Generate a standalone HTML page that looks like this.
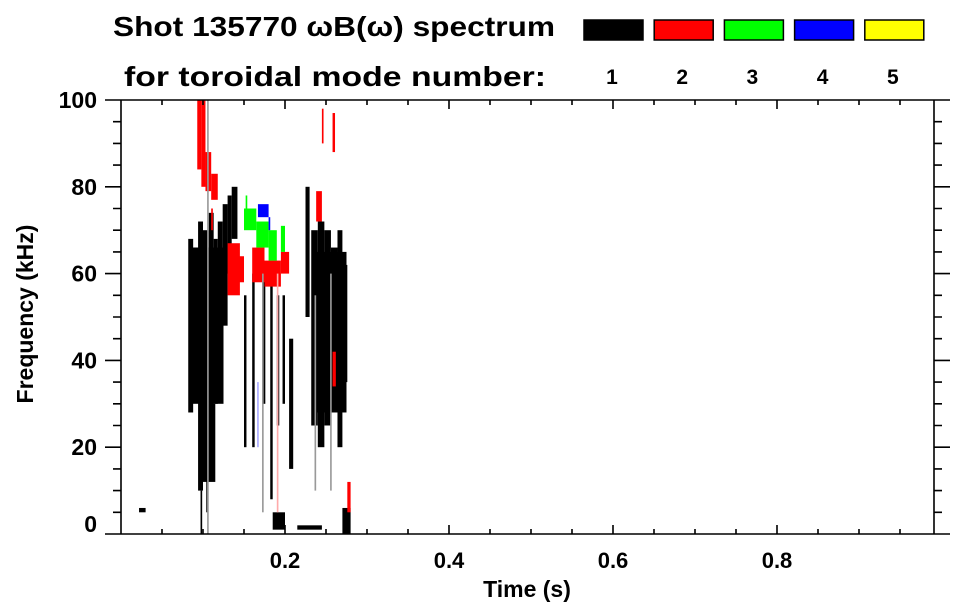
<!DOCTYPE html>
<html><head><meta charset="utf-8"><style>
html,body{margin:0;padding:0;background:#fff;}
svg{display:block;font-family:"Liberation Sans",Arial,sans-serif;font-weight:bold;}
</style></head><body>
<svg id="chart" width="963" height="615" viewBox="0 0 963 615">
<g id="title">
<text x="113" y="36" font-size="28" textLength="442" lengthAdjust="spacingAndGlyphs">Shot 135770 ωB(ω) spectrum</text>
<text x="124" y="86" font-size="28" textLength="422" lengthAdjust="spacingAndGlyphs">for toroidal mode number:</text>
</g>
<g id="legend"></g>
<g id="plot"></g>
<g id="axes"></g>
</svg>
<script>
const modeColors=["#000000","#ff0000","#00ff00","#0000ff","#ffff00","#999999","#ffaaaa","#aaaaff"];
const legendLabels=["1","2","3","4","5"];
const xTicks=[0.2,0.4,0.6,0.8];
const yTicks=[0,20,40,60,80,100];
// blobs: time start, time end (s), freq low, freq high (kHz), mode index
const blobT0=[0.085,0.235,0.095,
0.082,0.088,0.094,0.100,0.107,0.113,0.118,0.124,0.130,0.135,0.097,0.104,0.150,0.160,0.172,0.182,0.190,0.197,0.185,0.205,0.232,0.240,0.248,0.256,0.264,0.270,0.270,0.225,0.215,0.022,
0.093,0.098,0.103,0.110,0.130,0.135,0.160,0.175,0.195,0.238,0.258,0.276,0.245,0.258,0.110,
0.150,0.165,0.180,0.195,0.152,
0.167,0.180,
0.105,0.172,0.190,0.236,0.255,0.166];
const blobT1=[0.125,0.275,0.115,
0.088,0.094,0.100,0.107,0.113,0.118,0.124,0.130,0.135,0.142,0.099,0.106,0.153,0.163,0.176,0.185,0.193,0.200,0.200,0.210,0.240,0.248,0.256,0.264,0.270,0.276,0.280,0.230,0.245,0.030,
0.098,0.103,0.110,0.118,0.145,0.150,0.175,0.195,0.205,0.245,0.262,0.280,0.247,0.261,0.112,
0.165,0.180,0.190,0.200,0.154,
0.180,0.182,
0.107,0.174,0.192,0.238,0.257,0.168];
const blobF0=[30,28,12,
28,42,10,20,25,30,40,48,60,68,0,5,20,20,30,8,25,30,1,15,25,20,25,30,20,35,0,50,1,5,
84,80,79,77,55,58,58,57,60,72,34,5,90,88,70,
70,66,63,65,74,
73,70,
0,5,5,10,10,20];
const blobF1=[66,65,30,
68,66,72,70,74,68,72,76,78,80,10,25,55,60,62,60,55,55,5,45,70,72,70,66,70,62,6,80,2,6,
100,100,88,83,67,64,66,63,65,79,42,12,98,97,75,
75,72,70,71,78,
76,73,
100,60,60,55,60,35];
const blobMode=[0,0,0,
0,0,0,0,0,0,0,0,0,0,0,0,0,0,0,0,0,0,0,0,0,0,0,0,0,0,0,0,0,0,
1,1,1,1,1,1,1,1,1,1,1,1,1,1,1,
2,2,2,2,2,
3,3,
5,5,6,5,5,7];

const NS="http://www.w3.org/2000/svg";
const X0=121,X1=934,Y0=534,Y1=100;
function xs(t){return X0+t*820;}
function ys(f){return Y0-f*(Y0-Y1)/100;}
function mk(tag,attrs,parent){const e=document.createElementNS(NS,tag);for(const k in attrs)e.setAttribute(k,attrs[k]);parent.appendChild(e);return e;}

const leg=document.getElementById('legend');
legendLabels.forEach((lab,i)=>{
  const bx=584+i*70.2;
  const r=mk('rect',{x:bx,y:20,width:59,height:20,fill:modeColors[i],stroke:'#000','stroke-width':1.5},leg);
  
  
  const t=mk('text',{x:bx+28,y:84,'font-size':21,'text-anchor':'middle'},leg);
  t.textContent=lab;
  
  
});

const plot=document.getElementById('plot');
for(let i=0;i<blobT0.length;i++){
  const x=xs(blobT0[i]),w=Math.max(1,xs(blobT1[i])-x);
  const y=ys(blobF1[i]),h=Math.max(1,ys(blobF0[i])-y);
  const r=mk('rect',{x:x,y:y,width:w,height:h,fill:modeColors[blobMode[i]]},plot);
  
  
}

const ax=document.getElementById('axes');
const st={stroke:'#000','stroke-width':1.6,fill:'none'};
let p=mk('path',Object.assign({d:`M${X0},${Y1}V${Y0}M${X1},${Y1}V${Y0}M105,${Y0}H${X1}M105,${Y1}H${X1}`},st),ax);


let d='';
for(let t=0.05;t<0.99;t+=0.05){
  const major=Math.abs(t*5-Math.round(t*5))<1e-6;
  const L=major?9:5;const x=xs(t);
  d+=`M${x},${Y0}V${Y0-L}M${x},${Y1}V${Y1+L}`;
}
for(let f=5;f<100;f+=5){
  const major=f%20===0;const y=ys(f);
  d+=`M${major?105:113},${y}H${X0}M${X1},${y}H${major?950:942}`;
}
d+=`M${X1},${Y0}H950M${X1},${Y1}H950`;
p=mk('path',Object.assign({d:d},st),ax);


xTicks.forEach(v=>{
  const t=mk('text',{x:xs(v),y:568,'font-size':22,'text-anchor':'middle'},ax);
  t.textContent=v.toFixed(1);
  
  
});
yTicks.forEach(v=>{
  const t=mk('text',{x:97,y:Math.min(ys(v)+8,532),'font-size':23,'text-anchor':'end'},ax);
  t.textContent=String(v);
  
  
});
let tt=mk('text',{x:527,y:597,'font-size':23,'text-anchor':'middle'},ax);
tt.textContent='Time (s)';


tt=mk('text',{x:0,y:0,'font-size':23,'text-anchor':'middle',transform:'translate(33,314) rotate(-90)'},ax);
tt.textContent='Frequency (kHz)';


</script>
</body></html>
